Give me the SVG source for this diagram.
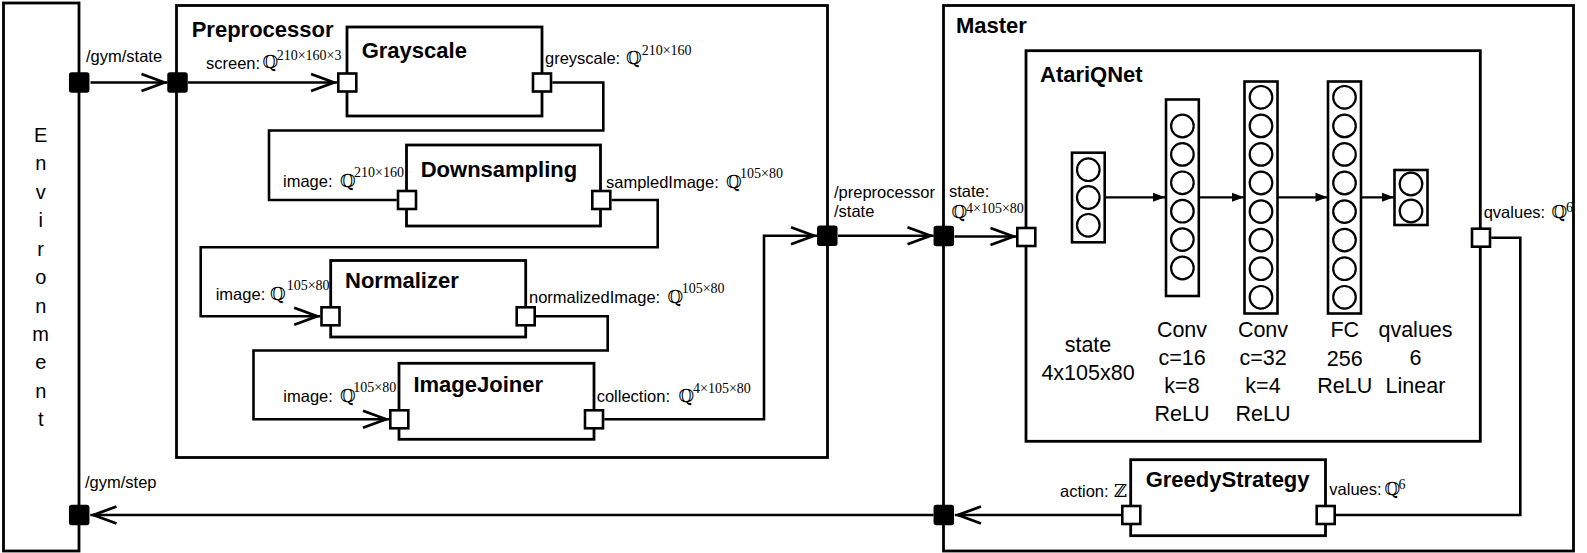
<svg xmlns="http://www.w3.org/2000/svg" width="1587" height="553" viewBox="0 0 1587 553">
<defs>
<style>
.box{fill:#fff;stroke:#000;stroke-width:2.8}
.title{font-family:"Liberation Sans",Arial,sans-serif;font-weight:bold;font-size:22px;fill:#000}
.lbl{font-family:"Liberation Sans",Arial,sans-serif;font-size:16.5px;fill:#000}
.q{font-family:"DejaVu Serif","DejaVu Sans",serif;font-size:18px;fill:#000}
.sup{font-family:"Liberation Serif","Times New Roman",serif;font-size:14px;fill:#000}
.pin{fill:#fff;stroke:#000;stroke-width:2.6}
.pout{fill:#000;stroke:#000;stroke-width:1.5}
.wire{fill:none;stroke:#000;stroke-width:2.6}
.awire{fill:none;stroke:#000;stroke-width:2.2}
.layer{fill:#fff;stroke:#000;stroke-width:2.6}
.neuron{fill:#fff;stroke:#000;stroke-width:2.2}
.nn{font-family:"Liberation Sans",Arial,sans-serif;font-size:21.5px;text-anchor:middle;fill:#000}
.env{font-family:"Liberation Sans",Arial,sans-serif;font-size:20px;text-anchor:middle;fill:#000}
</style>
<marker id="open" markerUnits="userSpaceOnUse" viewBox="-30 -12 34 24" markerWidth="34" markerHeight="24" refX="0" refY="0" orient="auto"><path d="M-26,-8.5 L-3,0 L-26,8.5" fill="none" stroke="#000" stroke-width="2.8"/></marker>
<marker id="solid" markerUnits="userSpaceOnUse" viewBox="-14 -6 16 12" markerWidth="16" markerHeight="12" refX="0" refY="0" orient="auto"><path d="M-12,-4.5 L0,0 L-12,4.5 Z" fill="#000"/></marker>
</defs>
<rect width="1587" height="553" fill="#fff"/>

<g id="environment">
<rect class="box" x="3.5" y="3" width="75.5" height="548"/>
<text class="env" x="40.7"><tspan x="40.7" y="141.7">E</tspan><tspan x="40.7" y="170.2">n</tspan><tspan x="40.7" y="198.6">v</tspan><tspan x="40.7" y="227.1">i</tspan><tspan x="40.7" y="255.5">r</tspan><tspan x="40.7" y="284">o</tspan><tspan x="40.7" y="312.5">n</tspan><tspan x="40.7" y="340.9">m</tspan><tspan x="40.7" y="369.4">e</tspan><tspan x="40.7" y="397.8">n</tspan><tspan x="40.7" y="426.3">t</tspan></text>
<rect class="pout" x="69.7" y="73" width="19" height="19" rx="2"/>
<rect class="pout" x="69.7" y="505.5" width="19" height="19" rx="2"/>
<text class="lbl" x="86" y="61.7" font-size="17">/gym/state</text>
<text class="lbl" x="85" y="488" font-size="17">/gym/step</text>
</g>

<g id="preprocessor">
<rect class="box" x="176.5" y="5.5" width="651" height="452"/>
<text class="title" x="191.7" y="37.3">Preprocessor</text>
<rect class="pout" x="168" y="73" width="19" height="19" rx="2"/>
<rect class="pout" x="817.8" y="226.3" width="19" height="19" rx="2"/>
<text class="lbl" x="834" y="198.3">/preprocessor</text>
<text class="lbl" x="834" y="216.7">/state</text>
</g>

<g id="master">
<rect class="box" x="943.5" y="5.5" width="630" height="545.5"/>
<text class="title" x="956" y="33.3">Master</text>
<rect class="pout" x="934.3" y="226.5" width="19" height="19" rx="2"/>
<rect class="pout" x="934.3" y="505.5" width="19" height="19" rx="2"/>
<text class="lbl" x="949" y="197">state:</text>
<text class="q" x="951.5" y="218">ℚ</text>
<text class="sup" x="966" y="213">4×105×80</text>
</g>

<g id="grayscale">
<rect class="box" x="347" y="27" width="195" height="89"/>
<text class="title" x="361.7" y="58">Grayscale</text>
<rect class="pin" x="338.3" y="73.5" width="18" height="18"/>
<rect class="pin" x="533" y="73.5" width="18" height="18"/>
<text class="lbl" x="206" y="69">screen:</text>
<text class="q" x="262.5" y="68">ℚ</text>
<text class="sup" x="276.7" y="60">210×160×3</text>
<text class="lbl" x="545" y="64">greyscale:</text>
<text class="q" x="626" y="64">ℚ</text>
<text class="sup" x="641.7" y="55">210×160</text>
</g>

<g id="downsampling">
<rect class="box" x="406.5" y="145" width="194" height="81"/>
<text class="title" x="420.7" y="176.7">Downsampling</text>
<rect class="pin" x="398" y="191" width="18" height="18"/>
<rect class="pin" x="592.3" y="191" width="18" height="18"/>
<text class="lbl" x="283" y="187">image:</text>
<text class="q" x="340" y="187">ℚ</text>
<text class="sup" x="354" y="177">210×160</text>
<text class="lbl" x="606" y="187.7">sampledImage:</text>
<text class="q" x="726" y="187.7">ℚ</text>
<text class="sup" x="740" y="178">105×80</text>
</g>

<g id="normalizer">
<rect class="box" x="330.7" y="260.5" width="195" height="76.5"/>
<text class="title" x="345" y="288">Normalizer</text>
<rect class="pin" x="321.5" y="307.3" width="18" height="18"/>
<rect class="pin" x="516.7" y="307.3" width="18" height="18"/>
<text class="lbl" x="215.7" y="300">image:</text>
<text class="q" x="270" y="300">ℚ</text>
<text class="sup" x="286.7" y="290">105×80</text>
<text class="lbl" x="529" y="302.7">normalizedImage:</text>
<text class="q" x="667.5" y="302.7">ℚ</text>
<text class="sup" x="681.7" y="292.7">105×80</text>
</g>

<g id="imagejoiner">
<rect class="box" x="399" y="363.3" width="195" height="76"/>
<text class="title" x="413.4" y="391.7">ImageJoiner</text>
<rect class="pin" x="390.3" y="410.3" width="18" height="18"/>
<rect class="pin" x="585" y="410.3" width="18" height="18"/>
<text class="lbl" x="283.3" y="402.3">image:</text>
<text class="q" x="340" y="402.3">ℚ</text>
<text class="sup" x="353.3" y="391.5">105×80</text>
<text class="lbl" x="596.7" y="402.3">collection:</text>
<text class="q" x="678.5" y="402.3">ℚ</text>
<text class="sup" x="693" y="393">4×105×80</text>
</g>

<g id="atariqnet">
<rect class="box" x="1026" y="50.7" width="454.3" height="390.6"/>
<text class="title" x="1040" y="81.7">AtariQNet</text>
<rect class="pin" x="1017.3" y="228" width="18" height="18"/>
<rect class="pin" x="1472" y="228.7" width="18" height="18"/>
<text class="lbl" x="1483.7" y="218.3" font-size="15.5">qvalues:</text>
<text class="q" x="1551.5" y="218.3">ℚ</text>
<text class="sup" x="1566" y="211.7">6</text>
</g>

<g id="layer-state">
<rect class="layer" x="1072" y="152.7" width="32.7" height="89.6"/>
<circle class="neuron" cx="1088.3" cy="169.7" r="11.3"/>
<circle class="neuron" cx="1088.3" cy="197.5" r="11.3"/>
<circle class="neuron" cx="1088.3" cy="225.3" r="11.3"/>
<text class="nn" x="1088" y="351.7">state</text>
<text class="nn" x="1088" y="380">4x105x80</text>
</g>

<g id="layer-conv1">
<rect class="layer" x="1166" y="99.5" width="32.8" height="196.5"/>
<circle class="neuron" cx="1182.4" cy="126" r="11.3"/>
<circle class="neuron" cx="1182.4" cy="154.4" r="11.3"/>
<circle class="neuron" cx="1182.4" cy="182.8" r="11.3"/>
<circle class="neuron" cx="1182.4" cy="211.2" r="11.3"/>
<circle class="neuron" cx="1182.4" cy="239.6" r="11.3"/>
<circle class="neuron" cx="1182.4" cy="268" r="11.3"/>
<text class="nn" x="1182" y="336.7">Conv</text>
<text class="nn" x="1182" y="365">c=16</text>
<text class="nn" x="1182" y="393">k=8</text>
<text class="nn" x="1182" y="421">ReLU</text>
</g>

<g id="layer-conv2">
<rect class="layer" x="1244.5" y="81.5" width="33" height="232"/>
<circle class="neuron" cx="1261" cy="97.3" r="11.3"/>
<circle class="neuron" cx="1261" cy="125.9" r="11.3"/>
<circle class="neuron" cx="1261" cy="154.4" r="11.3"/>
<circle class="neuron" cx="1261" cy="183" r="11.3"/>
<circle class="neuron" cx="1261" cy="211.6" r="11.3"/>
<circle class="neuron" cx="1261" cy="240.1" r="11.3"/>
<circle class="neuron" cx="1261" cy="268.7" r="11.3"/>
<circle class="neuron" cx="1261" cy="297.3" r="11.3"/>
<text class="nn" x="1263" y="336.7">Conv</text>
<text class="nn" x="1263" y="365">c=32</text>
<text class="nn" x="1263" y="393">k=4</text>
<text class="nn" x="1263" y="421">ReLU</text>
</g>

<g id="layer-fc">
<rect class="layer" x="1328" y="81.5" width="33" height="232"/>
<circle class="neuron" cx="1344.5" cy="97.3" r="11.3"/>
<circle class="neuron" cx="1344.5" cy="125.9" r="11.3"/>
<circle class="neuron" cx="1344.5" cy="154.4" r="11.3"/>
<circle class="neuron" cx="1344.5" cy="183" r="11.3"/>
<circle class="neuron" cx="1344.5" cy="211.6" r="11.3"/>
<circle class="neuron" cx="1344.5" cy="240.1" r="11.3"/>
<circle class="neuron" cx="1344.5" cy="268.7" r="11.3"/>
<circle class="neuron" cx="1344.5" cy="297.3" r="11.3"/>
<text class="nn" x="1344.8" y="336.7">FC</text>
<text class="nn" x="1344.8" y="365.5">256</text>
<text class="nn" x="1344.8" y="393">ReLU</text>
</g>

<g id="layer-qvalues">
<rect class="layer" x="1394.5" y="170" width="33" height="55"/>
<circle class="neuron" cx="1411" cy="184" r="11.3"/>
<circle class="neuron" cx="1411" cy="211" r="11.3"/>
<text class="nn" x="1415.5" y="336.7">qvalues</text>
<text class="nn" x="1415.5" y="365">6</text>
<text class="nn" x="1415.5" y="393">Linear</text>
</g>

<g id="greedystrategy">
<rect class="box" x="1130.7" y="459.7" width="194.8" height="76"/>
<text class="title" x="1145.7" y="487.3">GreedyStrategy</text>
<rect class="pin" x="1122.3" y="506" width="18" height="18"/>
<rect class="pin" x="1316.7" y="506" width="18" height="18"/>
<text class="lbl" x="1060" y="497">action:</text>
<text class="q" x="1114" y="497">ℤ</text>
<text class="lbl" x="1329.3" y="495" font-size="15.7">values:</text>
<text class="q" x="1384.5" y="495">ℚ</text>
<text class="sup" x="1398.5" y="489">6</text>
</g>

<g id="connectors">
<path class="wire" d="M90.5,82.5 H167.5" marker-end="url(#open)"/>
<path class="wire" d="M188,82.5 H337" marker-end="url(#open)"/>
<path class="wire" d="M552.3,82.5 H603.3 V130.5 H269 V200 H396.7"/>
<path class="wire" d="M611.6,200 H657.7 V247.3 H200.7 V316.3 H320.2" marker-end="url(#open)"/>
<path class="wire" d="M536,316.3 H607.7 V350.5 H253.5 V419.3 H389" marker-end="url(#open)"/>
<path class="wire" d="M604.3,419.3 H764 V235.8 H817" marker-end="url(#open)"/>
<path class="wire" d="M838,235.8 H933.5" marker-end="url(#open)"/>
<path class="wire" d="M954.5,236.5 H1016.5" marker-end="url(#open)"/>
<path class="wire" d="M1491.3,237.7 H1520.3 V515 H1336"/>
<path class="wire" d="M1121,515 H955" marker-end="url(#open)"/>
<path class="wire" d="M933.5,515 H90.5" marker-end="url(#open)"/>
<path class="awire" d="M1104.7,197.3 H1165" marker-end="url(#solid)"/>
<path class="awire" d="M1199,197.3 H1244" marker-end="url(#solid)"/>
<path class="awire" d="M1277.7,197.3 H1327.5" marker-end="url(#solid)"/>
<path class="awire" d="M1361,197.3 H1394" marker-end="url(#solid)"/>
</g>
</svg>
